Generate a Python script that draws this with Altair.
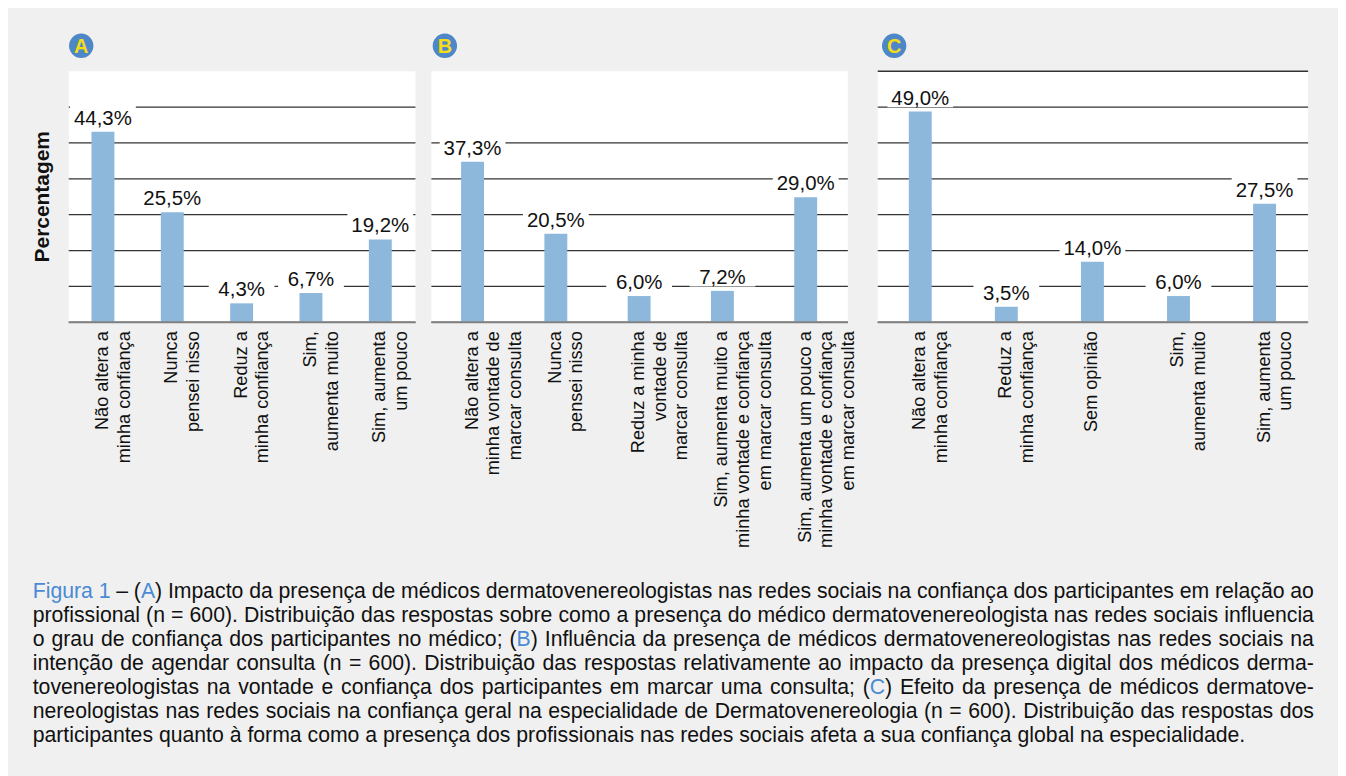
import altair as alt
import pandas as pd

# ---------------- data ----------------
cats_A = ["Não altera a|minha confiança", "Nunca|pensei nisso", "Reduz a|minha confiança",
          "Sim,|aumenta muito", "Sim, aumenta|um pouco"]
vals_A = [44.3, 25.5, 4.3, 6.7, 19.2]

cats_B = ["Não altera a|minha vontade de|marcar consulta", "Nunca|pensei nisso",
          "Reduz a minha|vontade de|marcar consulta",
          "Sim, aumenta muito a|minha vontade e confiança|em marcar consulta",
          "Sim, aumenta um pouco a|minha vontade e confiança|em marcar consulta"]
vals_B = [37.3, 20.5, 6.0, 7.2, 29.0]

cats_C = ["Não altera a|minha confiança", "Reduz a|minha confiança", "Sem opinião",
          "Sim,|aumenta muito", "Sim, aumenta|um pouco"]
vals_C = [49.0, 3.5, 14.0, 6.0, 27.5]

caption_lines = [
    "{Figura 1} – ({A}) Impacto da presença de médicos dermatovenereologistas nas redes sociais na confiança dos participantes em relação ao",
    "profissional (n = 600). Distribuição das respostas sobre como a presença do médico dermatovenereologista nas redes sociais influencia",
    "o grau de confiança dos participantes no médico; ({B}) Influência da presença de médicos dermatovenereologistas nas redes sociais na",
    "intenção de agendar consulta (n = 600). Distribuição das respostas relativamente ao impacto da presença digital dos médicos derma-",
    "tovenereologistas na vontade e confiança dos participantes em marcar uma consulta; ({C}) Efeito da presença de médicos dermatove-",
    "nereologistas nas redes sociais na confiança geral na especialidade de Dermatovenereologia (n = 600). Distribuição das respostas dos",
    "participantes quanto à forma como a presença dos profissionais nas redes sociais afeta a sua confiança global na especialidade.",
]

# ---------------- style ----------------
FONT = "Liberation Sans"
BAR = "#8db8dc"
BLUE = "#4a8ad4"
BADGE = "#4d87c7"
BADGE_TXT = "#f5dc14"
YMAX = 58.5
NSTEP = 7
STEP = YMAX / NSTEP
PLOT_H = 252


def fmt(v):
    return f"{v:.1f}".replace(".", ",") + "%"


def panel(cats, vals, letter, width, ngrid, title, letter_x):
    df = pd.DataFrame({"cat": cats, "val": vals})
    df["lab"] = [fmt(v) for v in vals]
    df["lo"] = df["val"] + 1.0
    df["hi"] = df["val"] + 6.5

    yaxis = dict(values=[STEP * k for k in range(0, ngrid + 1)], grid=True, labels=False,
                 ticks=False, domain=False, gridColor="#333333", gridWidth=1.3,
                 minExtent=0, maxExtent=0)
    if title:
        yaxis.update(title=title, titleFont=FONT, titleFontSize=21, titleFontWeight="bold",
                     titleColor="#111111", titlePadding=15.5)
    else:
        yaxis["title"] = None
    y_axis = alt.Axis(**yaxis)
    y_scale = alt.Scale(domain=[0, YMAX], nice=False)

    x_axis = alt.Axis(labelExpr="split(datum.label, '|')", labelAngle=-90,
                      labelAlign="right", labelBaseline="middle", labelFont=FONT,
                      labelFontSize=18.2, labelLineHeight=21.7, labelPadding=9,
                      labelColor="#111111", labelLimit=0, labelOverlap=False,
                      ticks=False, domainColor="#808080", domainWidth=2,
                      title=None, zindex=1)
    x = alt.X("cat:N", sort=cats, scale=alt.Scale(paddingInner=0, paddingOuter=0),
              axis=x_axis)

    base = alt.Chart(df)
    bars = base.mark_bar(color=BAR, width=23).encode(
        x=x, y=alt.Y("val:Q", scale=y_scale, axis=y_axis))
    boxes = base.mark_bar(color="white", width=66).encode(
        x=x, y=alt.Y("lo:Q", scale=y_scale, axis=y_axis), y2="hi:Q")
    labels = base.mark_text(font=FONT, fontSize=20.5, color="#111111",
                            baseline="alphabetic", dy=-7).encode(
        x=x, y=alt.Y("val:Q", scale=y_scale, axis=y_axis), text="lab:N")
    bdf = pd.DataFrame({"letter": [letter]})
    badge = alt.Chart(bdf).mark_circle(size=600, color=BADGE, opacity=1).encode(
        x=alt.value(letter_x), y=alt.value(-25))
    badge_t = alt.Chart(bdf).mark_text(font=FONT, fontSize=20, fontWeight="bold",
                                       color=BADGE_TXT, align="center",
                                       baseline="middle", dy=1).encode(
        x=alt.value(letter_x), y=alt.value(-25), text="letter:N")
    return alt.layer(boxes, bars, labels, badge, badge_t).properties(
        width=width, height=PLOT_H,
        view=alt.ViewBackground(fill="white", stroke="transparent"))


pA = panel(cats_A, vals_A, "A", 348, 6, "Percentagem", 13)
pB = panel(cats_B, vals_B, "B", 418, 5, None, 14)
pC = panel(cats_C, vals_C, "C", 432, 7, None, 17)

# ---------------- caption (justified, Arial metrics) ----------------
WID = {" ": 278, "(": 333, ")": 333, ",": 278, ".": 278, "-": 333, ";": 278, "=": 584,
       "–": 556, "%": 889, "A": 667, "B": 667, "C": 722, "D": 722, "E": 667, "F": 611,
       "I": 278, "M": 833, "N": 722, "P": 667, "R": 722, "S": 667,
       "c": 500, "f": 278, "i": 222, "j": 222, "k": 500, "l": 222, "m": 833, "r": 333,
       "s": 500, "t": 278, "v": 500, "w": 722, "x": 500, "y": 500, "z": 500,
       "ç": 500, "í": 278}
FS = 21.3
CAP_W = 1286
X0 = -35.7     # caption starts left of the first panel's plot area
Y0 = 20
LH = 24.1


def cw(s):
    return sum(WID.get(ch, 556) for ch in s) * FS / 1000.0


rows = []
for i, line in enumerate(caption_lines):
    chars = []
    blue = False
    for ch in line:
        if ch == "{":
            blue = True
        elif ch == "}":
            blue = False
        else:
            chars.append((ch, BLUE if blue else "#111111"))
    words, cur = [], []
    for ch, col in chars:
        if ch == " ":
            if cur:
                words.append(cur)
            cur = []
        else:
            cur.append((ch, col))
    if cur:
        words.append(cur)
    widths = [cw("".join(c for c, _ in w)) for w in words]
    if i < len(caption_lines) - 1:
        gap = max(3.0, (CAP_W - sum(widths)) / (len(words) - 1))
    else:
        gap = 278 * FS / 1000.0
    x = X0
    for w, ww in zip(words, widths):
        pieces = []
        for ch, col in w:
            if pieces and pieces[-1][1] == col:
                pieces[-1][0] += ch
            else:
                pieces.append([ch, col])
        px = x
        for txt, col in pieces:
            rows.append({"t": txt, "x": px, "y": Y0 + LH * i, "c": col})
            px += cw(txt)
        x += ww + gap

cap_df = pd.DataFrame(rows)
caption = alt.Chart(cap_df).mark_text(font=FONT, fontSize=FS, align="left",
                                      baseline="alphabetic").encode(
    x=alt.X("x:Q", scale=None, axis=None),
    y=alt.Y("y:Q", scale=None, axis=None),
    text="t:N",
    color=alt.Color("c:N", scale=None),
).properties(width=1250, height=170,
             view=alt.ViewBackground(fill="transparent", stroke="transparent"))

chart = alt.vconcat(
    alt.hconcat(pA, alt.hconcat(pB, pC, spacing=19), spacing=14),
    caption,
    spacing=29,
).properties(
    padding={"left": 23.5, "top": 23.5, "right": 23.5, "bottom": 40},
).configure(background="#f0f0f0").configure_view(stroke="transparent")

chart.save("out.html", embed_options={"renderer": "svg", "actions": False})
